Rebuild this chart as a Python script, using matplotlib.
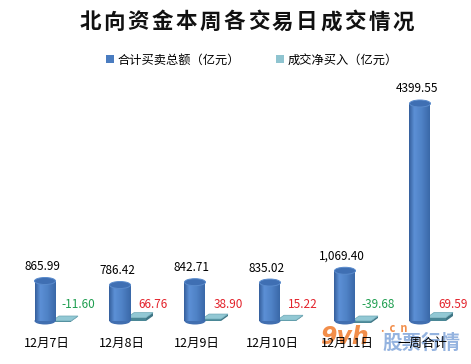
import numpy as np
import matplotlib
matplotlib.use("Agg")
import matplotlib.pyplot as plt
from matplotlib.patches import Ellipse, Polygon, Patch
from matplotlib.colors import LinearSegmentedColormap

plt.rcParams['font.family'] = ['Noto Sans CJK SC', 'DejaVu Sans']

# 数据
days = ['12月7日', '12月8日', '12月9日', '12月10日', '12月11日', '一周合计']
total = [865.99, 786.42, 842.71, 835.02, 1069.40, 4399.55]
total_labels = ['865.99', '786.42', '842.71', '835.02', '1,069.40', '4399.55']
net = [-11.60, 66.76, 38.90, 15.22, -39.68, 69.59]
net_labels = ['-11.60', '66.76', '38.90', '15.22', '-39.68', '69.59']
title = '北向资金本周各交易日成交情况'

W, H = 471, 364
fig = plt.figure(figsize=(W / 100, H / 100), dpi=100)
ax = fig.add_axes([0, 0, 1, 1])

# pixels -> data units
PX = max(total) / (321 - 100)
DX = 1 / 75
ax.set_xlim(-45 * DX, (W - 45) * DX)
ax.set_ylim(-(H - 321) * PX, 321 * PX)
ax.axis('off')

x = np.arange(len(days))
bw = 21 * DX
eh = 7 * PX

cmap = LinearSegmentedColormap.from_list(
    'cyl', [(0, '#355f9c'), (0.25, '#5c90d6'), (0.6, '#4f82c6'), (1, '#3a68a8')])
grad = np.linspace(0, 1, 100)[np.newaxis, :]

# cylinders
bars = ax.bar(x, np.array(total) - eh / 2, width=bw, color='#4a7cc0', zorder=2)
for i, b in enumerate(bars):
    x0 = b.get_x()
    h = b.get_height()
    ax.add_patch(Ellipse((x[i], 0), bw, eh, facecolor='#416fb0',
                         edgecolor='none', zorder=1.9))
    im = ax.imshow(grad, extent=[x0, x0 + bw, 0, h], aspect='auto',
                   cmap=cmap, zorder=2.1)
    im.set_clip_path(b)
    ax.add_patch(Ellipse((x[i], h), bw, eh, facecolor='#3f6fb3',
                         edgecolor='#5a8bcc', linewidth=0.7, zorder=2.2))
    ax.text(x[i] - 3 * DX, total[i] + 11 * PX, total_labels[i],
            ha='center', va='center', fontsize=8.5, color='black')

# flat net bars
sw = 19 * DX
off = 16.5 * DX
dx, dy = 7 * DX, 5 * PX
slabs = ax.bar(x + off, net, width=sw, color='#4a8796', zorder=1)
for i, b in enumerate(slabs):
    x0 = b.get_x()
    x1 = x0 + sw
    top = max(net[i], 0)
    bot = min(net[i], 0)
    ax.add_patch(Polygon([(x1, bot), (x1, top), (x1 + dx, top + dy), (x1 + dx, bot + dy)],
                         closed=True, facecolor='#3f7584', edgecolor='none', zorder=1))
    ax.add_patch(Polygon([(x0, top), (x1, top), (x1 + dx, top + dy), (x0 + dx, top + dy)],
                         closed=True, facecolor='#92c8d4', edgecolor='#6aa6b4',
                         linewidth=0.5, zorder=1.1))
    c = '#1f9e50' if net[i] < 0 else '#e3222b'
    ax.text(x[i] + 33 * DX, 16 * PX, net_labels[i], ha='center', va='center',
            fontsize=8.5, color=c)

# watermark (behind the labels)
ax.text(344 * DX - 45 * DX, -16 * PX, '9vh', fontsize=17, fontweight='bold',
        style='italic', color='#f07a2a', alpha=0.85, ha='center', va='center', zorder=0.5,
        family=['DejaVu Sans'])
ax.text(381 * DX - 45 * DX, -7 * PX, '.  c  n', fontsize=8, fontweight='bold',
        style='italic', color='#f07a2a', alpha=0.85, ha='left', va='center', zorder=0.5)
ax.text(421 * DX - 45 * DX, -22 * PX, '股票行情', fontsize=14, fontweight='bold',
        color='#7aa0d8', alpha=0.8, ha='center', va='center', zorder=0.5)

# category labels
for i, d in enumerate(days):
    ax.text(x[i] + 2 * DX, -22 * PX, d, ha='center', va='center',
            fontsize=9, color='black')

# title, letter-spaced
step = (403 - 90) / (len(title) - 1)
for k, ch in enumerate(title):
    fig.text((90 + k * step) / W, 1 - 22 / H, ch, ha='center', va='center',
             fontsize=15.5, fontweight='bold', color='#111111')

handles = [Patch(facecolor='#4a7cc0', edgecolor='none'),
           Patch(facecolor='#8fc4d0', edgecolor='none')]
fig.legend(handles, ['合计买卖总额（亿元）', '成交净买入（亿元）'],
           loc='center', bbox_to_anchor=(0.535, 1 - 60 / H), ncol=2, frameon=False,
           fontsize=8.8, handlelength=0.6, handleheight=0.6, handletextpad=0.3,
           columnspacing=3.0)

fig.savefig('out.png', dpi=100, facecolor='white')
